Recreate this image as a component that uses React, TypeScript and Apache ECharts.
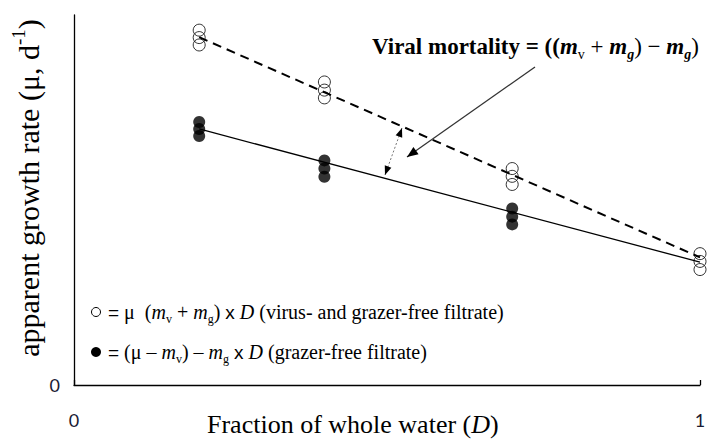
import React, { useEffect, useRef } from "react";
import * as echarts from "echarts";

// Fraction of whole water (D) for each dilution level
const dilutions = [0.2, 0.4, 0.7, 1.0];
// Open circles: virus- and grazer-free filtrate (three replicates per dilution)
const openRates = [
  [0.959, 0.939, 0.919],
  [0.819, 0.797, 0.776],
  [0.585, 0.564, 0.542],
  [0.355, 0.334, 0.312],
];
// Filled circles: grazer-free filtrate (three replicates per dilution)
const filledDilutions = [0.2, 0.4, 0.7];
const filledRates = [
  [0.711, 0.692, 0.673],
  [0.607, 0.585, 0.563],
  [0.477, 0.455, 0.434],
];
// Regression lines (end points)
const dashedFit = [
  [0.2, 0.94],
  [1.0, 0.345],
];
const solidFit = [
  [0.2, 0.692],
  [1.0, 0.332],
];
const xTicks = [0, 1];
const yTicks = [0];

const SERIF = "'Liberation Serif', 'Times New Roman', serif";
const SANS = "'Liberation Sans', Arial, sans-serif";

function arrowHead(tip: number[], from: number[], len: number, half: number) {
  const dx = tip[0] - from[0];
  const dy = tip[1] - from[1];
  const L = Math.hypot(dx, dy);
  const ux = dx / L;
  const uy = dy / L;
  const bx = tip[0] - ux * len;
  const by = tip[1] - uy * len;
  const nx = -uy;
  const ny = ux;
  return [
    [tip[0], tip[1]],
    [bx + nx * half, by + ny * half],
    [bx - nx * half, by - ny * half],
  ];
}

function richSet(size: number, bold: boolean) {
  const fw = bold ? "bold" : "normal";
  const lh = Math.round(size * 1.3);
  const sub = Math.round(size * 0.62);
  return {
    n: { fontFamily: SERIF, fontSize: size, fontWeight: fw, lineHeight: lh, verticalAlign: "middle", fill: "#000", color: "#000" },
    r: { fontFamily: SERIF, fontSize: size, fontWeight: "normal", lineHeight: lh, verticalAlign: "middle", fill: "#000", color: "#000" },
    i: { fontFamily: SERIF, fontSize: size, fontWeight: fw, fontStyle: "italic", lineHeight: lh, verticalAlign: "middle", fill: "#000", color: "#000" },
    s: { fontFamily: SANS, fontSize: size - 1, fontWeight: "normal", lineHeight: lh, verticalAlign: "middle", fill: "#000", color: "#000" },
    sub: { fontFamily: SERIF, fontSize: sub, fontWeight: "normal", lineHeight: sub, verticalAlign: "bottom", fill: "#000", color: "#000" },
    isub: { fontFamily: SERIF, fontSize: sub, fontWeight: fw, fontStyle: "italic", lineHeight: sub, verticalAlign: "bottom", fill: "#000", color: "#000" },
    sup: { fontFamily: SERIF, fontSize: sub, fontWeight: fw, lineHeight: sub, verticalAlign: "top", fill: "#000", color: "#000" },
  };
}

function textEl(x: number, y: number, text: string, rich: any, opts: any = {}) {
  return {
    type: "text",
    x,
    y,
    rotation: opts.rotation || 0,
    scaleX: opts.scaleX || 1,
    scaleY: opts.scaleY || 1,
    style: {
      text,
      rich,
      align: opts.align || "left",
      textAlign: opts.align || "left",
      verticalAlign: "middle",
      textVerticalAlign: "middle",
      fill: "#000",
    },
    z: 100,
  };
}

export default function App() {
  const ref = useRef<HTMLDivElement>(null);
  useEffect(() => {
    if (!ref.current) return;
    const chart = echarts.init(ref.current, undefined, { renderer: "svg" });

    const openData: number[][] = [];
    dilutions.forEach((d, i) => openRates[i].forEach((v) => openData.push([d, v])));
    const filledData: number[][] = [];
    filledDilutions.forEach((d, i) => filledRates[i].forEach((v) => filledData.push([d, v])));

    const mainFrom = [535, 67];
    const mainTo = [407, 157];
    const dblA = [402, 128];
    const dblB = [385, 175];

    const titleRich = richSet(23, true);
    const legRich = richSet(20, false);
    const xRich = richSet(26, false);
    const yRich = richSet(30, false);

    chart.setOption({
      animation: false,
      backgroundColor: "#fff",
      grid: { left: 74, right: 17, top: 15, bottom: 55 },
      xAxis: {
        type: "value",
        min: xTicks[0],
        max: xTicks[xTicks.length - 1],
        interval: 1,
        axisLine: { show: true, lineStyle: { color: "#000", width: 1.3 } },
        axisTick: { show: true, inside: true, length: 5, lineStyle: { color: "#000", width: 1.3 } },
        axisLabel: { margin: 26, fontSize: 18, fontFamily: "Lato", color: "#1a1a33" },
        splitLine: { show: false },
      },
      yAxis: {
        type: "value",
        min: 0,
        max: 1,
        interval: 1,
        axisLine: { show: true, lineStyle: { color: "#000", width: 1.3 } },
        axisTick: { show: false },
        axisLabel: {
          margin: 14,
          fontSize: 18,
          fontFamily: "Lato",
          color: "#1a1a33",
          formatter: (v: number) => (yTicks.includes(v) ? String(v) : ""),
        },
        splitLine: { show: false },
      },
      series: [
        {
          type: "line",
          data: dashedFit,
          symbol: "none",
          lineStyle: { color: "#000", width: 2, type: [9, 6] },
          z: 3,
        },
        {
          type: "line",
          data: solidFit,
          symbol: "none",
          lineStyle: { color: "#000", width: 1.3 },
          z: 3,
        },
        {
          type: "scatter",
          data: openData,
          symbol: "circle",
          symbolSize: 12,
          itemStyle: { color: "rgba(0,0,0,0)", borderColor: "#000", borderWidth: 1 },
          z: 4,
        },
        {
          type: "scatter",
          data: filledData,
          symbol: "circle",
          symbolSize: 12,
          itemStyle: { color: "#000" },
          z: 4,
        },
      ],
      graphic: [
        // main arrow
        {
          type: "line",
          shape: { x1: mainFrom[0], y1: mainFrom[1], x2: mainTo[0], y2: mainTo[1] },
          style: { stroke: "#333", lineWidth: 1.3 },
          z: 50,
        },
        {
          type: "polygon",
          shape: { points: arrowHead(mainTo, mainFrom, 11, 4.5) },
          style: { fill: "#000" },
          z: 50,
        },
        // double-headed dotted arrow
        {
          type: "line",
          shape: { x1: dblA[0], y1: dblA[1], x2: dblB[0], y2: dblB[1] },
          style: { stroke: "#777", lineWidth: 1, lineDash: [2, 2] },
          z: 50,
        },
        {
          type: "polygon",
          shape: { points: arrowHead(dblA, dblB, 9, 3.5) },
          style: { fill: "#000" },
          z: 50,
        },
        {
          type: "polygon",
          shape: { points: arrowHead(dblB, dblA, 9, 3.5) },
          style: { fill: "#000" },
          z: 50,
        },
        // annotation
        textEl(
          372,
          46,
          "{n|Viral mortality = ((}{i|m}{sub|v}{r| + }{i|m}{isub|g}{r|) − }{i|m}{isub|g}{r|)}",
          titleRich
        ),
        // legend
        { type: "circle", shape: { cx: 96, cy: 312, r: 4.5 }, style: { fill: "#fff", stroke: "#000", lineWidth: 1 }, z: 100 },
        textEl(
          108,
          312,
          "{s|=}{n| μ  (}{i|m}{sub|v}{n| + }{i|m}{sub|g}{n|) }{s|x}{n| }{i|D}{n| (virus- and grazer-free filtrate)}",
          legRich
        ),
        { type: "circle", shape: { cx: 96, cy: 352, r: 5 }, style: { fill: "#000" }, z: 100 },
        textEl(
          108,
          352,
          "{s|=}{n| (μ – }{i|m}{sub|v}{n|) – }{i|m}{sub|g}{n| }{s|x}{n| }{i|D}{n| (grazer-free filtrate)}",
          legRich
        ),
        // axis titles
        textEl(207, 424, "{n|Fraction of whole water (}{i|D}{n|)}", xRich),
        textEl(28, 188, "{n|apparent growth rate (μ, d}{sup|-1}{n|)}", yRich, {
          rotation: Math.PI / 2,
          align: "center",
        }),
      ],
    });
    return () => chart.dispose();
  }, []);
  return (
    <div
      ref={ref}
      style={{ position: "absolute", left: 0, top: 0, width: 717, height: 440, background: "#fff" }}
    />
  );
}
